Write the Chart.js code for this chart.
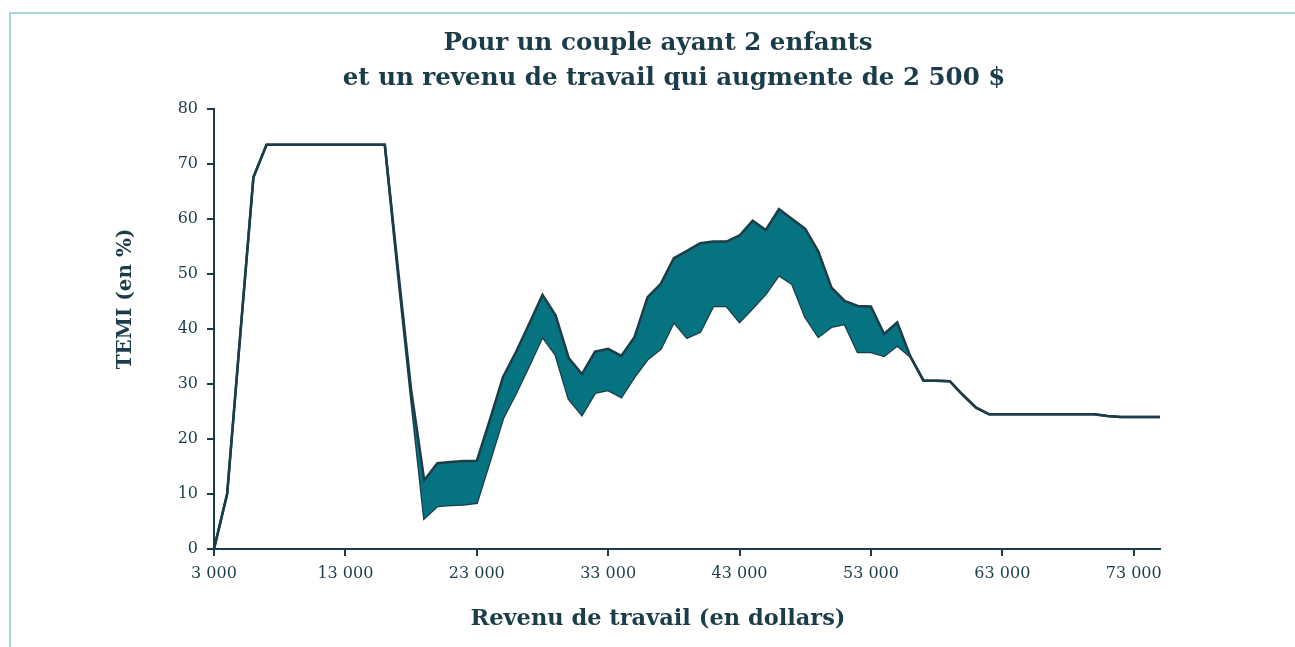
<!DOCTYPE html>
<html>
<head>
<meta charset="utf-8">
<script src="https://cdn.jsdelivr.net/npm/chart.js@4"></script>
<style>
  html, body { margin: 0; padding: 0; background: #fff; }
  #wrap { position: relative; width: 1295px; height: 647px; }
  #frame { position: absolute; left: 9px; top: 12px; right: 0; bottom: 0;
           border-top: 2px solid #a9d6dc; border-left: 2px solid #a9d6dc; }
  canvas { position: absolute; left: 0; top: 0; }
</style>
</head>
<body>
<div id="wrap">
  <div id="frame"></div>
  <canvas id="temi" width="1295" height="647"></canvas>
</div>
<script>
const titleLines = ['Pour un couple ayant 2 enfants', 'et un revenu de travail qui augmente de 2 500 $'];
const xTitle = 'Revenu de travail (en dollars)';
const yTitle = 'TEMI (en %)';

// revenu de travail (dollars)
const revenus = [3000, 4000, 5000, 6000, 7000, 8000, 9000, 10000, 11000, 12000,
  13000, 14000, 15000, 16000, 17000, 18000, 19000, 20000, 21000, 22000,
  23000, 24000, 25000, 26000, 27000, 28000, 29000, 30000, 31000, 32000,
  33000, 34000, 35000, 36000, 37000, 38000, 39000, 40000, 41000, 42000,
  43000, 44000, 45000, 46000, 47000, 48000, 49000, 50000, 51000, 52000,
  53000, 54000, 55000, 56000, 57000, 58000, 59000, 60000, 61000, 62000,
  63000, 64000, 65000, 66000, 67000, 68000, 69000, 70000, 71000, 72000,
  73000, 74000, 75000];

// TEMI, borne haute (%)
const temiHaut = [0, 10, 39, 67.6, 73.5, 73.5, 73.5, 73.5, 73.5, 73.5,
  73.5, 73.5, 73.5, 73.5, 51, 29, 12.5, 15.6, 15.8, 16,
  16, 23.5, 31.3, 35.9, 41, 46.2, 42.5, 34.7, 31.8, 35.9,
  36.4, 35.1, 38.5, 45.8, 48.2, 52.9, 54.2, 55.6, 55.9, 55.9,
  57, 59.7, 58, 61.8, 60, 58.2, 54.1, 47.5, 45.1, 44.2,
  44.1, 39.1, 41.2, 35, 30.6, 30.6, 30.5, 28, 25.7, 24.5,
  24.5, 24.5, 24.5, 24.5, 24.5, 24.5, 24.5, 24.5, 24.2, 24,
  24, 24, 24];

// TEMI, borne basse (%)
const temiBas = [0, 10, 39, 67.6, 73.5, 73.5, 73.5, 73.5, 73.5, 73.5,
  73.5, 73.5, 73.5, 73.5, 50, 27.5, 5.6, 7.8, 8, 8.1,
  8.4, 16, 23.8, 28.4, 33.4, 38.6, 35.3, 27.3, 24.4, 28.4,
  28.9, 27.6, 31.3, 34.5, 36.4, 41.3, 38.4, 39.5, 44.2, 44.2,
  41.3, 43.8, 46.4, 49.8, 48.2, 42.2, 38.6, 40.4, 40.9, 35.8,
  35.8, 35.1, 37, 35, 30.6, 30.6, 30.5, 28, 25.7, 24.5,
  24.5, 24.5, 24.5, 24.5, 24.5, 24.5, 24.5, 24.5, 24.2, 24,
  24, 24, 24];

const xTicks = [3000, 13000, 23000, 33000, 43000, 53000, 63000, 73000];
const yTicks = [0, 10, 20, 30, 40, 50, 60, 70, 80];

const ink = '#1b3d49';
const teal = '#057480';
const serif = "'DejaVu Serif', 'Liberation Serif', serif";

function fmt(v) {
  return String(v).replace(/\B(?=(\d{3})+(?!\d))/g, ' ');
}

const textPlugin = {
  id: 'texts',
  afterDraw(chart) {
    const c = chart.ctx;
    c.save();
    c.fillStyle = ink;
    c.textAlign = 'center';
    c.textBaseline = 'middle';
    c.font = 'bold 24.5px ' + serif;
    c.fillText(titleLines[0], 658, 44);
    c.fillText(titleLines[1], 674, 79);
    c.font = 'bold 22.5px ' + serif;
    c.fillText(xTitle, 658, 619);
    c.translate(126, 299);
    c.rotate(-Math.PI / 2);
    c.font = 'bold 20px ' + serif;
    c.fillText(yTitle, 0, 0);
    c.restore();
  }
};

const ctx = document.getElementById('temi').getContext('2d');

window.temiChart = new Chart(ctx, {
  type: 'line',
  data: {
    datasets: [
      {
        label: 'haut',
        data: revenus.map((r, i) => ({ x: r, y: temiHaut[i] })),
        borderColor: ink,
        borderWidth: 2.5,
        backgroundColor: teal,
        pointRadius: 0,
        tension: 0,
        fill: '+1'
      },
      {
        label: 'bas',
        data: revenus.map((r, i) => ({ x: r, y: temiBas[i] })),
        borderColor: ink,
        borderWidth: 2.5,
        pointRadius: 0,
        tension: 0,
        fill: false
      }
    ]
  },
  options: {
    responsive: false,
    animation: false,
    layout: {
      padding: { left: 0, right: 135, top: 109, bottom: 0 }
    },
    plugins: {
      legend: { display: false },
      tooltip: { enabled: false },
      title: { display: false }
    },
    scales: {
      x: {
        type: 'linear',
        min: 3000,
        max: 75000,
        afterBuildTicks: (axis) => { axis.ticks = xTicks.map(v => ({ value: v })); },
        afterFit: (axis) => { axis.height = 98; },
        border: { color: ink, width: 2 },
        grid: { drawOnChartArea: false, drawTicks: true, tickLength: 7, color: ink, lineWidth: 2 },
        ticks: {
          color: ink,
          padding: 8,
          maxRotation: 0,
          font: { family: serif, size: 16 },
          callback: (v) => fmt(v)
        }
      },
      y: {
        min: 0,
        max: 80,
        afterBuildTicks: (axis) => { axis.ticks = yTicks.map(v => ({ value: v })); },
        afterFit: (axis) => { axis.width = 214; },
        border: { color: ink, width: 2 },
        grid: { drawOnChartArea: false, drawTicks: true, tickLength: 7, color: ink, lineWidth: 2 },
        ticks: {
          color: ink,
          padding: 9,
          font: { family: serif, size: 16 }
        }
      }
    }
  },
  plugins: [textPlugin]
});
</script>
</body>
</html>
